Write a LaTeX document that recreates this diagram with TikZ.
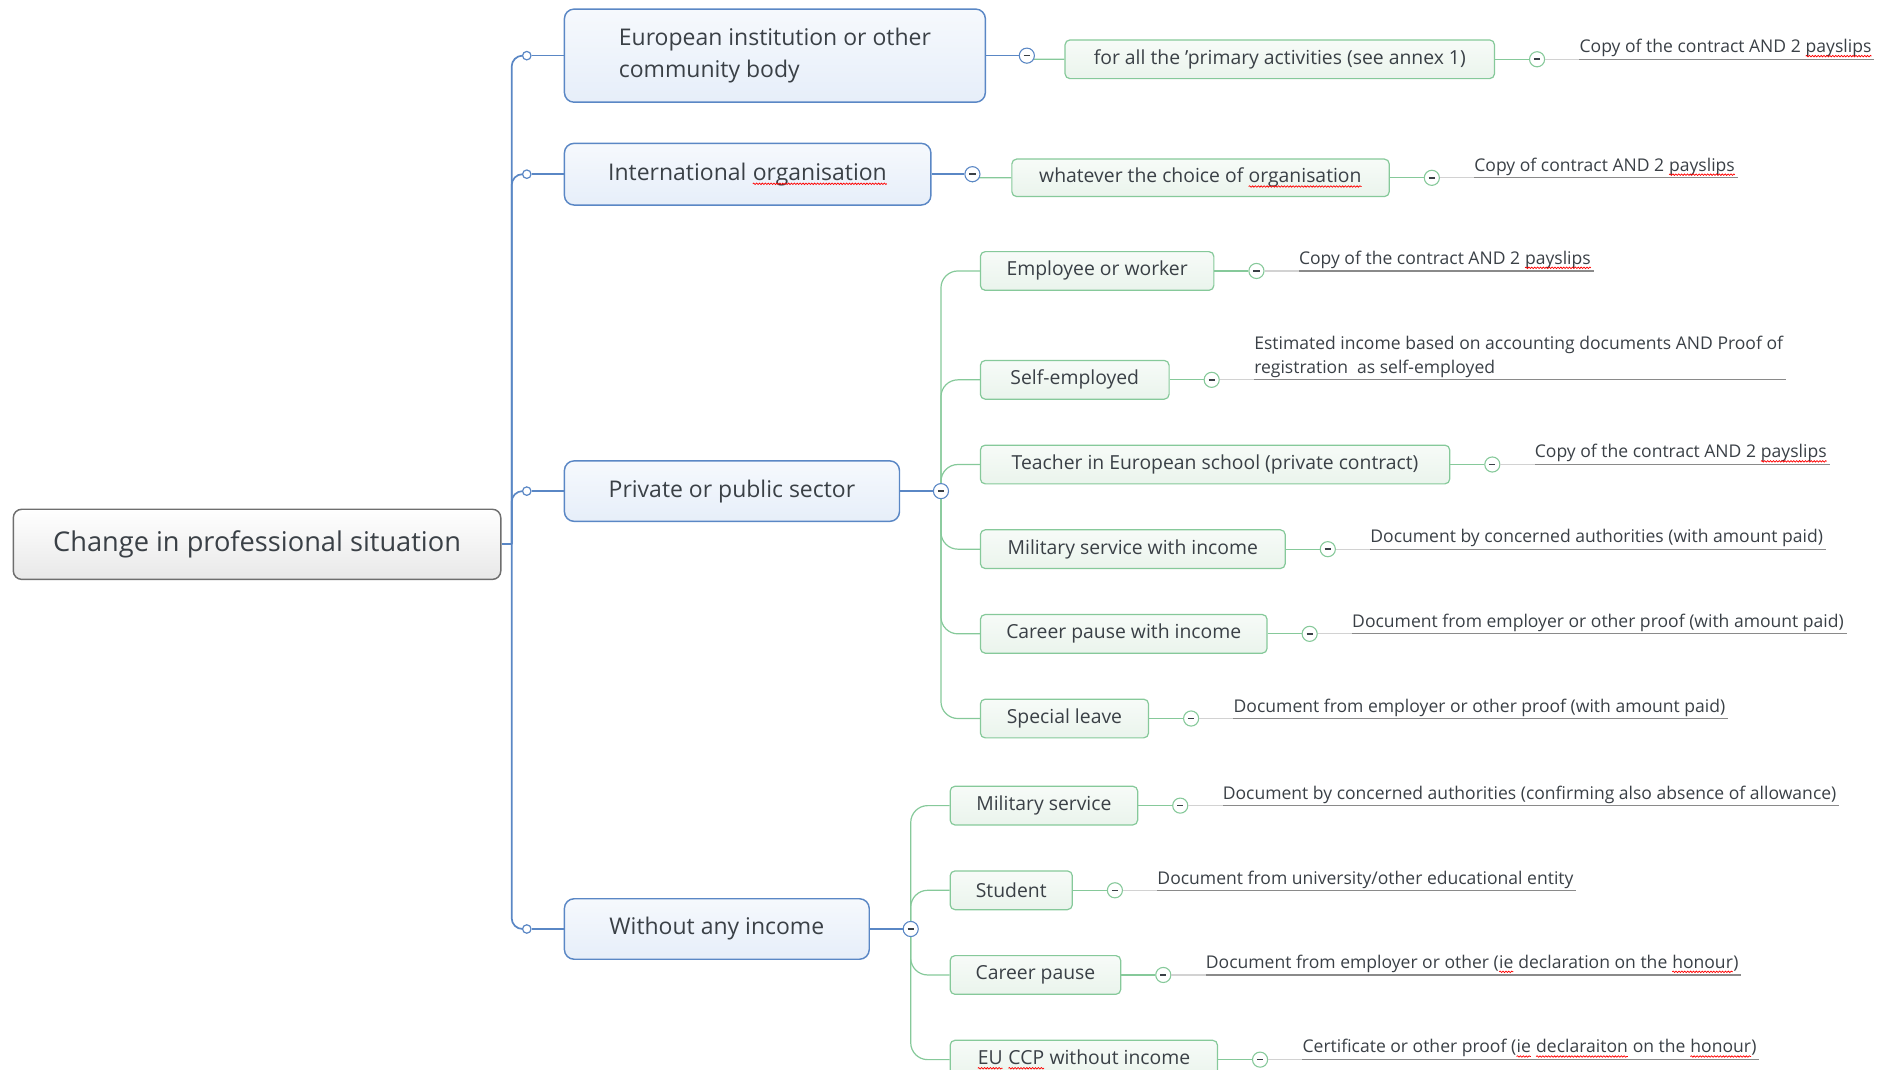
\documentclass[tikz,border=0pt]{standalone}
\usepackage{fontspec}
\setmainfont{Open Sans}
\usetikzlibrary{positioning,backgrounds,decorations.pathmorphing}
\definecolor{bluec}{HTML}{5A87C5}
\definecolor{bluetop}{HTML}{F6F9FD}
\definecolor{bluebot}{HTML}{E6EEF9}
\definecolor{greenc}{HTML}{86C99A}
\definecolor{greentop}{HTML}{F7FBF8}
\definecolor{greenbot}{HTML}{EAF4EC}
\definecolor{rootc}{HTML}{6E6E6E}
\definecolor{textc}{HTML}{3A4046}
\definecolor{stubc}{HTML}{D2D2D2}
\definecolor{ulinec}{HTML}{8A8A8A}
% spell-check wave
\newcommand\spell[1]{\tikz[baseline=(w.base)]{\node[shape=rectangle, draw=none, inner sep=0pt, outer sep=0pt,
   minimum width=0pt, minimum height=0pt, anchor=base] (w) {#1};
   \draw[red, line width=0.6pt, sharp corners, decorate, decoration={snake, amplitude=0.6pt, segment length=2.4pt}]
   ([yshift=-3pt]w.base west) -- ([yshift=-3pt]w.base east);}}
\tikzset{
  rootbox/.style={draw=rootc, line width=1.2pt, rounded corners=7pt, top color=white, bottom color=black!9,
    minimum width=403pt, minimum height=58pt, inner sep=0pt, text=textc, font=\fontsize{22.5}{27}\selectfont},
  topicbox/.style={draw=bluec, line width=1.2pt, rounded corners=8pt, top color=bluetop, bottom color=bluebot,
    minimum height=50pt, inner sep=0pt, text=textc, font=\fontsize{19}{27}\selectfont},
  subbox/.style={draw=greenc, line width=1pt, rounded corners=4pt, top color=greentop, bottom color=greenbot,
    minimum height=32pt, inner sep=0pt, text=textc, font=\fontsize{16}{19}\selectfont},
  notetext/.style={anchor=south west, inner xsep=0pt, inner ysep=1.5pt, align=left, text=textc,
    font=\fontsize{14.5}{20}\selectfont},
  fold/.style={circle, fill=white, line width=0.9pt, minimum size=12.5pt, inner sep=0pt,
    path picture={\draw[line width=1.3pt, textc] ([xshift=-2.6pt]path picture bounding box.center)
      -- ([xshift=2.6pt]path picture bounding box.center);}},
  knob/.style={circle, draw=bluec, fill=white, line width=1pt, minimum size=7pt, inner sep=0pt},
  trunk/.style={draw=bluec, line width=1.4pt},
  twig/.style={draw=greenc, line width=1pt},
  stub/.style={draw=stubc, line width=1pt},
  uline/.style={draw=ulinec, line width=1pt},
}
\begin{document}
\begin{tikzpicture}[x=1pt,y=-1pt]
   \useasboundingbox (0,0) rectangle (1560,884);
   \clip (0,0) rectangle (1560,884);
   %
   \node[rootbox] (root) at (212.5,450) {Change in professional situation};
   \coordinate (hub) at (423,450);
   \node[topicbox, minimum width=348pt, minimum height=77pt, align=left, anchor=west] (eu) at (466,46)
   {European institution or other\\community body};
   \node[topicbox, minimum width=303pt, minimum height=51pt, anchor=west] (io) at (466,144)
   {International \spell{organisation}};
   \node[topicbox, minimum width=277pt, anchor=west] (ps) at (466,406) {Private or public sector};
   \node[topicbox, minimum width=252pt, anchor=west] (wi) at (466,768) {Without any income};
   \foreach \t in {eu,io,ps,wi} {
      \node[knob, left=26.5pt of \t] (\t k) {};
      \node[fold, draw=bluec, right=27pt of \t] (\t f) {};
   }
   % second level
   \node[subbox, minimum width=355pt, anchor=west] (eua) at (880,49)
   {for all the 'primary activities (see annex 1)};
   \node[subbox, minimum width=312pt, minimum height=31pt, anchor=west] (ioa) at (836,147)
   {whatever the choice of \spell{organisation}};
   \foreach \n/\y/\w/\t in {emp/224/193/Employee or worker, self/314/156/Self-employed,
      teach/384/388/Teacher in European school (private contract), mil/454/252/Military service with income,
      car/524/237/Career pause with income, spec/594/139/Special leave}
      \node[subbox, minimum width=\w pt, anchor=west] (\n) at (810,\y) {\t};
   \foreach \n/\y/\w/\t in {msv/666/155/Military service, stu/736/101/Student, cpa/806/141/Career pause,
      ccp/876/221/{\spell{EU} \spell{CCP} without income}}
      \node[subbox, minimum width=\w pt, anchor=west] (\n) at (785,\y) {\t};
   % notes
   \foreach \n/\t in {eua/{Copy of the contract AND 2 \spell{payslips}},
      ioa/{Copy of contract AND 2 \spell{payslips}},
      emp/{Copy of the contract AND 2 \spell{payslips}},
      self/{Estimated income based on accounting documents AND Proof of\\registration\ \ as self-employed},
      teach/{Copy of the contract AND 2 \spell{payslips}},
      mil/{Document by concerned authorities (with amount paid)},
      car/{Document from employer or other proof (with amount paid)},
      spec/{Document from employer or other proof (with amount paid)},
      msv/{Document by concerned authorities (confirming also absence of allowance)},
      stu/{Document from university/other educational entity},
      cpa/{Document from employer or other (\spell{ie} declaration on the \spell{honour})},
      ccp/{Certificate or other proof (\spell{ie} \spell{declaraiton} on the \spell{honour})}} {
      \node[fold, draw=greenc, right=28pt of \n] (\n f) {};
      \node[notetext] (\n t) at ([xshift=35pt]\n f.center) {\t};
      \draw[uline] (\n t.south west) -- ([xshift=2pt]\n t.south east);
      \draw[stub] (\n f.east) -- (\n t.south west);
   }
   % connectors
   \begin{scope}[on background layer]
   \draw[trunk] (root.east) -- (hub);
   \foreach \t in {eu,io,ps,wi} {
      \draw[trunk, rounded corners=9pt] (hub) |- (\t k);
      \draw[trunk] (\t k) -- (\t) -- (\t f);
   }
   \draw[twig, rounded corners=3pt] (euf) |- (eua.west);
   \draw[twig, rounded corners=3pt] (iof) |- (ioa.west);
   \foreach \n in {emp,self,teach,mil,car,spec}
      \draw[twig, rounded corners=14pt] (psf) |- (\n.west);
   \foreach \n in {msv,stu,cpa,ccp}
      \draw[twig, rounded corners=14pt] (wif) |- (\n.west);
   \foreach \n in {eua,ioa,emp,self,teach,mil,car,spec,msv,stu,cpa,ccp}
      \draw[twig] (\n) -- (\n f);
   \end{scope}
\end{tikzpicture}
\end{document}
